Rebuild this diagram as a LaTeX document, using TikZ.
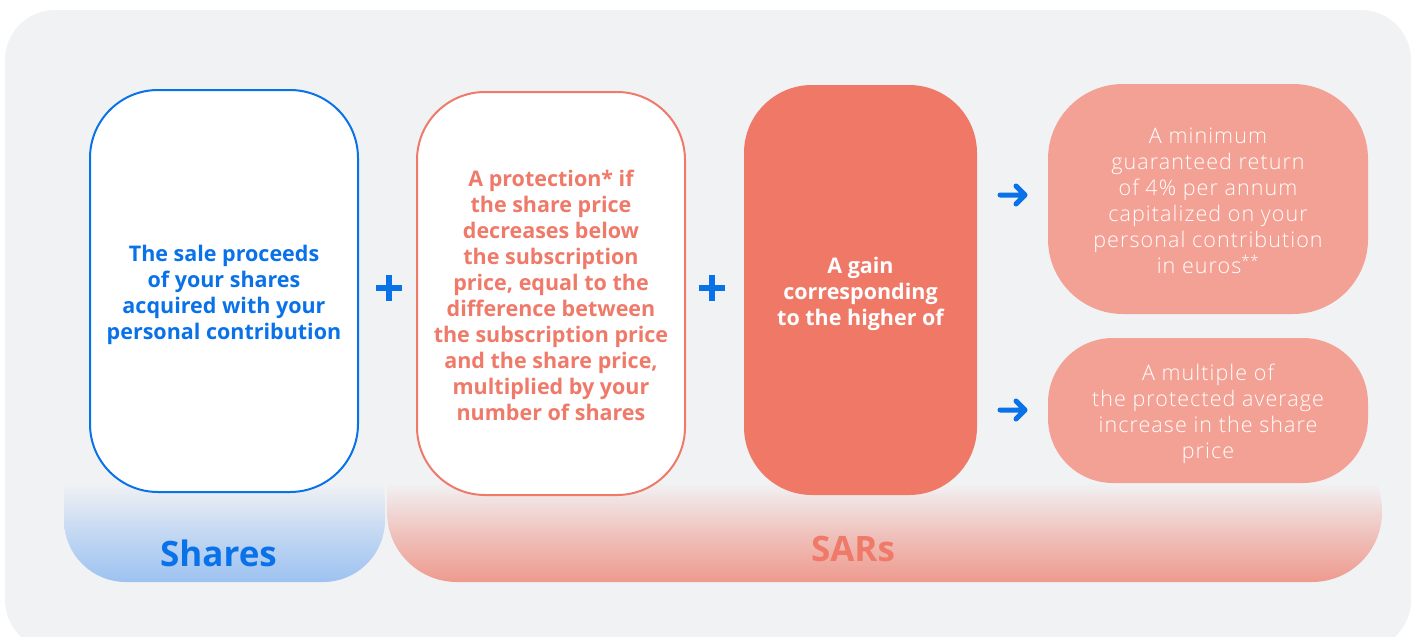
\documentclass[tikz,border=0pt]{standalone}
\usepackage{fontspec}
\setmainfont{Open Sans}
\newfontfamily\thinfont[LetterSpace=5, UprightFont=* Light]{Open Sans}

\definecolor{bgpanel}{HTML}{F1F2F4}
\definecolor{brandblue}{HTML}{0A72E9}
\definecolor{salmon}{HTML}{EF7A69}
\definecolor{salmonfill}{HTML}{EF7867}
\definecolor{peach}{HTML}{F4A195}
\definecolor{bandblue}{HTML}{9DC2F1}
\definecolor{bandsalmon}{HTML}{EE9A8E}

% vertical fades: solid colour at the bottom, panel colour towards the top
\pgfdeclareverticalshading{sharesfade}{100bp}{color(0bp)=(bandblue); color(25bp)=(bandblue); color(42bp)=(bandblue!55!bgpanel); color(60bp)=(bgpanel); color(100bp)=(bgpanel)}
\pgfdeclareverticalshading{sarsfade}{100bp}{color(0bp)=(bandsalmon); color(25bp)=(bandsalmon); color(42bp)=(bandsalmon!55!bgpanel); color(60bp)=(bgpanel); color(100bp)=(bgpanel)}

\tikzset{
  card/.style={rectangle, rounded corners=68pt, inner sep=0pt},
  cardtext/.style={align=center, inner sep=0pt},
  boldtext/.style={cardtext, font=\bfseries\fontsize{21.5}{26}\selectfont},
  lighttext/.style={cardtext, font=\thinfont\fontsize{21.5}{26}\selectfont, text=white},
  plusmark/.style={draw=brandblue, line width=6pt},
  arrowmark/.style={draw=brandblue, line width=5pt, line cap=round, line join=round},
  bandlabel/.style={font=\bfseries\fontsize{35}{38}\selectfont},
}

\begin{document}
\begin{tikzpicture}[x=1pt,y=-1pt]
  \useasboundingbox (0,0) rectangle (1416,637);
  \fill[white] (0,0) rectangle (1416,637);
  % panel
  \fill[bgpanel, rounded corners=50pt] (5,10) rectangle (1411,650);

  % category bands
  \shade[shading=sharesfade] (64,440) [rounded corners=62pt] -- (64,582) -- (385,582) -- (385,440) [sharp corners] -- cycle;
  \shade[shading=sarsfade] (387,440) [rounded corners=70pt] -- (387,582) -- (1382,582) -- (1382,440) [sharp corners] -- cycle;
  \node[bandlabel, text=brandblue] (sharesLabel) at (218.5,553) {Shares};
  \node[bandlabel, text=salmon] (sarsLabel) at (853,549) {SARs};

  % cards
  \node[card, draw=brandblue, line width=2pt, fill=white, minimum width=268pt, minimum height=402pt] (proceeds) at (224,291) {};
  \node[card, draw=salmon, line width=2pt, fill=white, minimum width=268pt, minimum height=403pt] (protection) at (551,293.5) {};
  \node[card, fill=salmonfill, minimum width=233pt, minimum height=410pt] (gain) at (860.5,290) {};
  \node[card, rounded corners=75pt, fill=peach, minimum width=320pt, minimum height=230pt] (minimum) at (1208,199) {};
  \node[card, rounded corners=65pt, fill=peach, minimum width=320pt, minimum height=145pt] (multiple) at (1208,410.5) {};

  % card texts
  \node[boldtext, text=brandblue] (proceedsText) at ([yshift=-4pt]proceeds.center)
    {The sale proceeds\\of your shares\\acquired with your\\personal contribution};
  \node[boldtext, text=salmon] (protectionText) at ([yshift=-1.5pt]protection.center)
    {A protection* if\\the share price\\decreases below\\the subscription\\price, equal to the\\difference between\\the subscription price\\and the share price,\\multiplied by your\\number of shares};
  \node[boldtext, text=white] (gainText) at ([yshift=-4pt]gain.center)
    {A gain\\corresponding\\to the higher of};
  \node[lighttext] (minimumText) at ([yshift=-2pt]minimum.center)
    {A minimum\\guaranteed return\\of 4\% per annum\\capitalized on your\\personal contribution\\in euros\textsuperscript{**}};
  \node[lighttext] (multipleText) at ([yshift=-3pt]multiple.center)
    {A multiple of\\the protected average\\increase in the share\\price};

  % plus signs between the cards
  \path[plusmark] (376,288) -- (402,288) (389,275) -- (389,301);
  \path[plusmark] (698.5,288) -- (724.5,288) (711.5,275) -- (711.5,301);

  % arrows pointing at the two options
  \path[arrowmark] (1000,195) -- (1025,195) (1016,186) -- (1025,195) -- (1016,204);
  \path[arrowmark] (1000,410) -- (1025,410) (1016,401) -- (1025,410) -- (1016,419);
\end{tikzpicture}
\end{document}
